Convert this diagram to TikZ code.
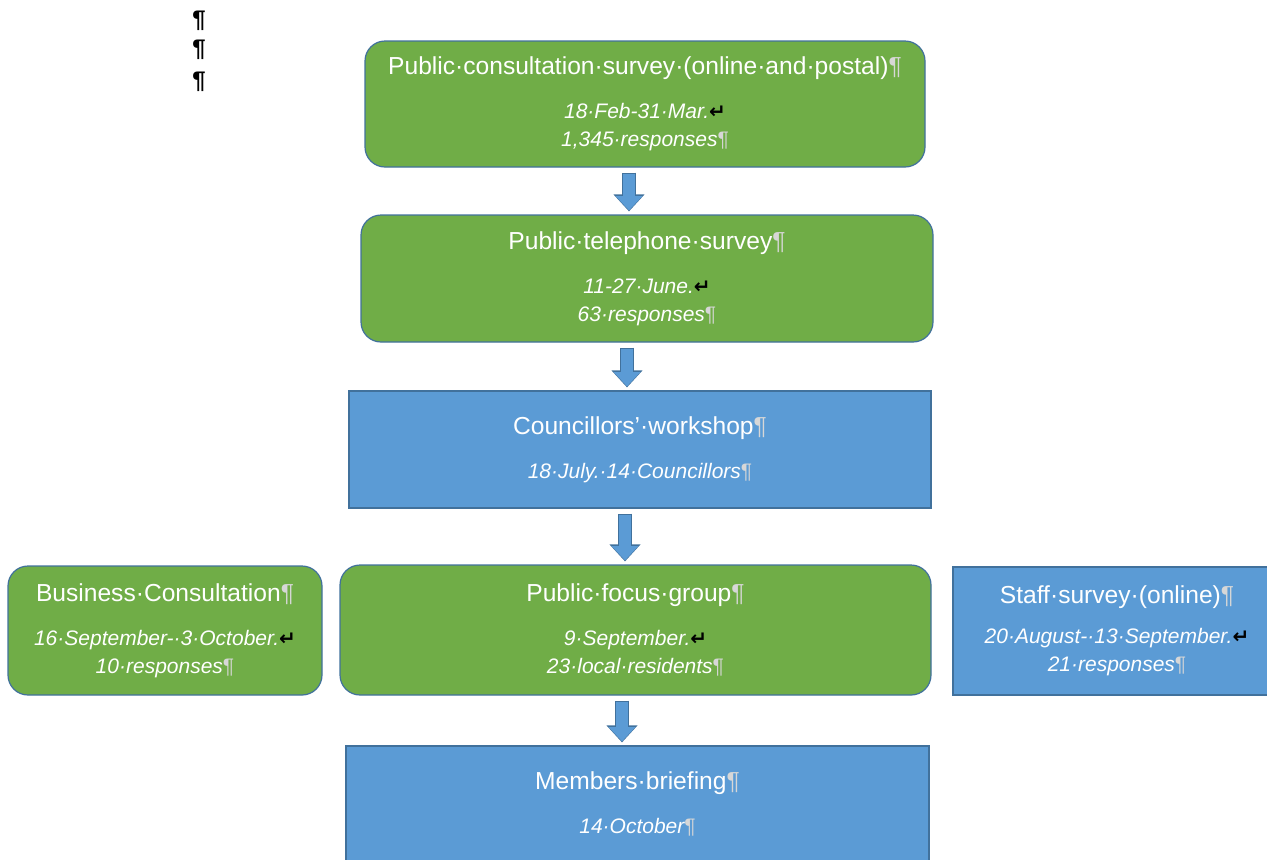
\documentclass[tikz,border=0pt]{standalone}
\usepackage{fontspec}
\setmainfont{Liberation Sans}
\newfontfamily\symfont{DejaVu Sans}
\usepackage{xcolor}
\usetikzlibrary{positioning,arrows.meta,calc}
\definecolor{stepgreen}{RGB}{112,173,71}
\definecolor{stepblue}{RGB}{91,155,213}
\definecolor{stepedge}{RGB}{65,113,156}
\definecolor{markgray}{RGB}{215,215,215}
\newcommand{\parmark}{\textcolor{markgray}{\textup{¶}}}
\newcommand{\retmark}{{\symfont\bfseries\fontsize{10}{10}\selectfont\textcolor{black}{↵}}}
\newcommand{\detailfont}{\fontsize{10.5}{13.5}\selectfont\itshape}

\begin{document}
\begin{tikzpicture}[x=0.5pt,y=-0.5pt,
    greenbox/.style={rectangle,rounded corners=10pt,draw=stepedge,fill=stepgreen,line width=0.6pt,text=white,align=center,font=\fontsize{12.3}{14}\selectfont},
    bluebox/.style={rectangle,draw=stepedge,fill=stepblue,line width=0.6pt,text=white,align=center,font=\fontsize{12.3}{14}\selectfont},
    flowarrow/.style={draw=stepedge,line width=7pt,-{Triangle[width=15pt,length=8.5pt]}},
    flowinner/.style={draw=stepblue,line width=6pt,-{Triangle[width=13pt,length=7.2pt]}}
]
    \useasboundingbox (0,0) rectangle (1267,859);
    \clip (0,0) rectangle (1267,859);

    % stray paragraph marks
    \node[font=\bfseries\fontsize{12}{12}\selectfont] (mark1) at (199,21) {¶};
    \node[font=\bfseries\fontsize{12}{12}\selectfont] (mark2) at (199,50) {¶};
    \node[font=\bfseries\fontsize{12}{12}\selectfont] (mark3) at (199,82) {¶};

    % main chain
    \node[greenbox,minimum width=280pt,minimum height=63pt] (consult) at (645,104)
        {Public·consultation·survey·(online·and·postal)\parmark\\[8pt]
         \detailfont 18·Feb-31·Mar.\retmark\\\detailfont 1,345·responses\parmark};
    \node[greenbox,minimum width=286pt,minimum height=63.5pt] (phone) at (647,278.5)
        {Public·telephone·survey\parmark\\[8pt]
         \detailfont 11-27·June.\retmark\\\detailfont 63·responses\parmark};
    \node[bluebox,minimum width=291pt,minimum height=58.5pt] (workshop) at (640,449.5)
        {Councillors’·workshop\parmark\\[8pt]
         \detailfont 18·July.·14·Councillors\parmark};
    \node[greenbox,minimum width=295.5pt,minimum height=65pt] (focus) at (635.5,630)
        {Public·focus·group\parmark\\[8pt]
         \detailfont 9·September.\retmark\\\detailfont 23·local·residents\parmark};
    \node[bluebox,minimum width=291.5pt,minimum height=57.5pt] (briefing) at (637.5,803.5)
        {Members·briefing\parmark\\[8pt]
         \detailfont 14·October\parmark};

    % side boxes
    \node[greenbox,minimum width=157pt,minimum height=64.5pt] (business) at (165,630.5)
        {Business·Consultation\parmark\\[8pt]
         \detailfont 16·September-·3·October.\retmark\\\detailfont 10·responses\parmark};
    \node[bluebox,minimum width=164pt,minimum height=64pt] (staff) at (1117,631)
        {Staff·survey·(online)\parmark\\[6pt]
         \detailfont 20·August-·13·September.\retmark\\\detailfont 21·responses\parmark};

    % block arrows
    \foreach \from/\to/\dx in {consult/phone/-16,phone/workshop/-20,workshop/focus/-15,focus/briefing/-13.5}{
        \draw[flowarrow] ($(\from.south)+(\dx,5)$) -- ($(\to.north -| \from.south)+(\dx,-3)$);
        \draw[flowinner] ($(\from.south)+(\dx,6)$) -- ($(\to.north -| \from.south)+(\dx,-4)$);
    }
\end{tikzpicture}
\end{document}
